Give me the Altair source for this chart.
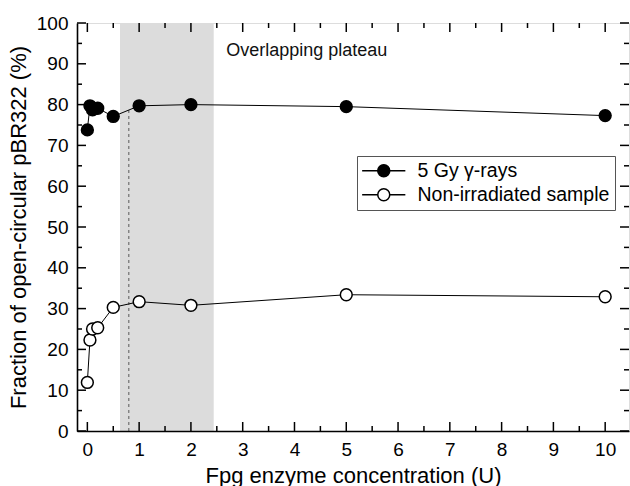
import altair as alt
import pandas as pd

# ---------------- data ----------------
conc = [0, 0.05, 0.1, 0.2, 0.5, 1, 2, 5, 10]
irradiated = [73.8, 79.7, 78.7, 79.1, 77.1, 79.7, 80.0, 79.5, 77.3]
non_irradiated = [11.9, 22.3, 25.0, 25.3, 30.3, 31.7, 30.8, 33.4, 32.9]
series_names = ["5 Gy \u03b3-rays", "Non-irradiated sample"]

plateau_x = [0.63, 2.44]
plateau_y = [0, 100]
marker_x = [0.8]
marker_y = [0, 78.7]
note_text = ["Overlapping plateau"]
note_x = [2.68]
note_y = [93.2]

x_domain = [-0.2, 10.46]
y_domain = [0, 100]
x_major = [0, 1, 2, 3, 4, 5, 6, 7, 8, 9, 10]
x_minor = [0.5, 1.5, 2.5, 3.5, 4.5, 5.5, 6.5, 7.5, 8.5, 9.5]
y_major = [0, 10, 20, 30, 40, 50, 60, 70, 80, 90, 100]
y_minor = [5, 15, 25, 35, 45, 55, 65, 75, 85, 95]

# ---------------- layout ----------------
W, H = 552, 408
FONT = "Liberation Sans"
MAJOR_PX, MINOR_PX = 9, 5
x_per_px = (x_domain[1] - x_domain[0]) / W
y_per_px = (y_domain[1] - y_domain[0]) / H

# ---------------- tables ----------------
df = pd.DataFrame({
    "conc": conc * 2,
    "frac": irradiated + non_irradiated,
    "series": [series_names[0]] * len(conc) + [series_names[1]] * len(conc),
})
shade_df = pd.DataFrame({"x0": [plateau_x[0]], "x1": [plateau_x[1]],
                         "y0": [plateau_y[0]], "y1": [plateau_y[1]]})
rule_df = pd.DataFrame({"x": marker_x, "y0": [marker_y[0]], "y1": [marker_y[1]]})
text_df = pd.DataFrame({"x": note_x, "y": note_y, "t": note_text})

# inward tick segments (all four sides) built from the tick lists
rows = []
for vals, px in ((x_major, MAJOR_PX), (x_minor, MINOR_PX)):
    for v in vals:
        rows.append((v, y_domain[0], v, y_domain[0] + px * y_per_px))
        rows.append((v, y_domain[1], v, y_domain[1] - px * y_per_px))
for vals, px in ((y_major, MAJOR_PX), (y_minor, MINOR_PX)):
    for v in vals:
        rows.append((x_domain[0], v, x_domain[0] + px * x_per_px, v))
        rows.append((x_domain[1], v, x_domain[1] - px * x_per_px, v))
tick_df = pd.DataFrame(rows, columns=["tx", "ty", "tx2", "ty2"])

xs = alt.Scale(domain=x_domain, nice=False, zero=False)
ys = alt.Scale(domain=y_domain, nice=False, zero=False)

common = dict(grid=False, zindex=1, domainColor="black", domainWidth=1.6,
              labelFont=FONT, titleFont=FONT, labelColor="black", titleColor="black")

AXB = alt.Axis(orient="bottom", values=x_major, ticks=False, tickSize=0,
               labelFontSize=19, labelPadding=9, title="Fpg enzyme concentration (U)",
               titleFontSize=22, titleFontWeight="normal", titlePadding=6,
               **common)
AXL = alt.Axis(orient="left", values=y_major, ticks=False, tickSize=0,
               labelFontSize=19, labelPadding=9,
               title="Fraction of open-circular pBR322 (%)",
               titleFontSize=22, titleFontWeight="normal", titlePadding=6,
               **common)


def X(field):
    return alt.X(field, scale=xs, axis=AXB)


def Y(field):
    return alt.Y(field, scale=ys, axis=AXL)


shade = alt.Chart(shade_df).mark_rect(color="#dcdcdc").encode(
    x=X("x0:Q"), x2="x1:Q", y=Y("y0:Q"), y2="y1:Q",
)

ticks = alt.Chart(tick_df).mark_rule(color="black", strokeWidth=1.5).encode(
    x=X("tx:Q"), y=Y("ty:Q"), x2="tx2:Q", y2="ty2:Q",
)

rule = alt.Chart(rule_df).mark_rule(color="#707070", strokeDash=[3, 3],
                                    strokeWidth=1.2).encode(
    x=X("x:Q"), y=Y("y0:Q"), y2="y1:Q",
)

lines = alt.Chart(df).mark_line(color="black", strokeWidth=1).encode(
    x=X("conc:Q"), y=Y("frac:Q"), detail="series:N",
)

SYMBOL = "M-3.6,0L-1,0M1,0L3.6,0M-1,0A1,1,0,1,1,1,0A1,1,0,1,1,-1,0Z"

points = alt.Chart(df).mark_point(filled=True, size=140, stroke="black",
                                  strokeWidth=1.5, opacity=1).encode(
    x=X("conc:Q"),
    y=Y("frac:Q"),
    fill=alt.Fill("series:N",
                  scale=alt.Scale(domain=series_names, range=["black", "white"]),
                  legend=alt.Legend(title=None, orient="none", legendX=280, legendY=133,
                                    symbolType=SYMBOL, symbolSize=144,
                                    symbolStrokeColor="black", symbolStrokeWidth=1.5,
                                    symbolOpacity=1, symbolOffset=12, labelOffset=24,
                                    labelFontSize=19.5, labelFont=FONT, labelColor="black",
                                    labelLimit=400,
                                    strokeColor="#555555", fillColor="white",
                                    padding=5, rowPadding=3, cornerRadius=0)),
)

note = alt.Chart(text_df).mark_text(align="left", baseline="middle", fontSize=18,
                                    font=FONT, color="#111111").encode(
    x=X("x:Q"), y=Y("y:Q"), text="t:N",
)

chart = alt.layer(shade, ticks, rule, lines, points, note).properties(
    width=W, height=H,
    autosize=alt.AutoSizeParams(type="none"),
    padding={"left": 77, "top": 23, "right": 1, "bottom": 55},
).configure_view(stroke="black", strokeWidth=1.6).configure(background="white")

chart.save("out.html", embed_options={"renderer": "svg", "actions": False})
